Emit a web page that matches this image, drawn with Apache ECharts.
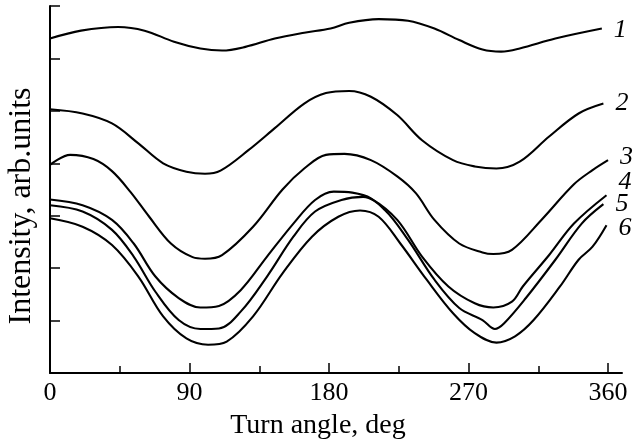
<!DOCTYPE html>
<html>
<head>
<meta charset="utf-8">
<script src="https://cdn.jsdelivr.net/npm/echarts@6/dist/echarts.min.js"></script>
<style>
html,body{margin:0;padding:0;background:#fff;}
#chart{width:636px;height:447px;}
</style>
</head>
<body>
<div id="chart"></div>
<script>
// ---- data ----
const xMajorTicks = [0, 90, 180, 270, 360];
const xMinorTicks = [45, 135, 225, 315];
const curveLabels = ['1', '2', '3', '4', '5', '6'];

const deg1 = [0, 20, 44, 61, 80, 97, 111, 126, 145, 164, 181, 193, 212, 231, 248, 264, 279, 291, 303, 326, 356];
const val1 = [6.38, 6.53, 6.60, 6.53, 6.32, 6.19, 6.15, 6.22, 6.38, 6.49, 6.57, 6.68, 6.75, 6.72, 6.57, 6.35, 6.17, 6.13, 6.19, 6.38, 6.57];

const deg2 = [0, 21, 40, 57, 73, 88, 100, 110, 128, 145, 164, 178, 193, 207, 224, 240, 260, 274, 288, 303, 322, 341, 357];
const val2 = [5.03, 4.95, 4.76, 4.38, 4.00, 3.84, 3.80, 3.86, 4.25, 4.67, 5.14, 5.34, 5.38, 5.27, 4.92, 4.44, 4.06, 3.94, 3.90, 4.03, 4.51, 4.95, 5.14];

const deg3 = [0, 13, 28, 40, 52, 64, 78, 92, 100, 111, 131, 150, 164, 178, 190, 207, 224, 236, 248, 264, 279, 286, 298, 317, 338, 350, 360];
const val3 = [3.97, 4.16, 4.08, 3.85, 3.45, 2.98, 2.47, 2.21, 2.18, 2.25, 2.79, 3.50, 3.90, 4.16, 4.18, 4.06, 3.75, 3.43, 2.92, 2.47, 2.30, 2.27, 2.35, 2.92, 3.60, 3.87, 4.06];

const deg4 = [0, 21, 40, 54, 68, 83, 97, 109, 123, 140, 157, 171, 183, 195, 207, 224, 240, 257, 274, 286, 298, 305, 322, 338, 359];
const val4 = [3.31, 3.20, 2.92, 2.47, 1.84, 1.43, 1.25, 1.28, 1.58, 2.22, 2.85, 3.30, 3.46, 3.44, 3.33, 2.92, 2.22, 1.65, 1.33, 1.25, 1.36, 1.65, 2.25, 2.85, 3.39];

const deg5 = [0, 21, 40, 54, 68, 83, 97, 109, 123, 140, 157, 171, 188, 202, 216, 231, 248, 264, 279, 287, 293, 307, 326, 343, 357];
const val5 = [3.20, 3.08, 2.73, 2.22, 1.55, 1.01, 0.84, 0.85, 1.17, 1.84, 2.60, 3.08, 3.30, 3.36, 3.11, 2.54, 1.78, 1.24, 1.01, 0.84, 0.95, 1.43, 2.16, 2.85, 3.22];

const deg6 = [0, 21, 40, 57, 73, 88, 102, 114, 131, 150, 169, 186, 200, 212, 226, 243, 260, 274, 288, 300, 312, 329, 341, 350, 359];
const val6 = [2.95, 2.79, 2.44, 1.84, 1.08, 0.66, 0.54, 0.60, 1.08, 1.90, 2.60, 2.98, 3.10, 2.98, 2.47, 1.78, 1.14, 0.76, 0.58, 0.70, 1.01, 1.65, 2.16, 2.41, 2.82];

const xTitle = 'Turn angle, deg';
const yTitle = 'Intensity, arb.units';
// ---------------------------------------

const labelOffsetY = [2, 0, -3, -13, 0, 3];
const curves = [[deg1, val1], [deg2, val2], [deg3, val3], [deg4, val4], [deg5, val5], [deg6, val6]];
const FONT = '"Liberation Serif", "DejaVu Serif", serif';

const chart = echarts.init(document.getElementById('chart'), null, {renderer: 'canvas'});

const series = curves.map((c, i) => ({
  type: 'line',
  xAxisIndex: 0,
  yAxisIndex: 0,
  data: c[0].map((d, k) => [d, c[1][k]]),
  smooth: 0.35,
  showSymbol: false,
  silent: true,
  lineStyle: {color: '#000', width: 2.1},
  endLabel: {
    show: true,
    formatter: curveLabels[i],
    fontFamily: FONT,
    fontStyle: 'italic',
    fontSize: 26,
    color: '#000',
    distance: 12,
    offset: [0, labelOffsetY[i]]
  }
}));

const option = {
  animation: false,
  backgroundColor: '#fff',
  grid: {left: 50, right: 14, top: 6, bottom: 74, containLabel: false},
  xAxis: [
    {
      type: 'value', min: 0, max: 369,
      axisLine: {show: true, lineStyle: {color: '#000', width: 2}},
      axisTick: {show: true, inside: true, length: 10, customValues: xMajorTicks, lineStyle: {color: '#000', width: 1.5}},
      axisLabel: {show: true, customValues: xMajorTicks, fontFamily: FONT, fontSize: 26, color: '#000', margin: 7},
      splitLine: {show: false}
    },
    {
      type: 'value', min: 0, max: 369, position: 'bottom',
      axisLine: {show: false},
      axisTick: {show: true, inside: true, length: 7, customValues: xMinorTicks, lineStyle: {color: '#000', width: 1.5}},
      axisLabel: {show: false},
      splitLine: {show: false}
    }
  ],
  yAxis: {
    type: 'value', min: 0, max: 7, interval: 1,
    axisLine: {show: true, lineStyle: {color: '#000', width: 2}},
    axisTick: {show: true, inside: true, length: 10, lineStyle: {color: '#000', width: 1.5}},
    axisLabel: {show: false},
    splitLine: {show: false}
  },
  graphic: [
    {
      type: 'text', x: 318, y: 426,
      style: {text: xTitle, font: '28px ' + FONT, fill: '#000', align: 'center', verticalAlign: 'middle'}
    },
    {
      type: 'text', x: 22, y: 206, rotation: Math.PI / 2,
      style: {text: yTitle, font: '32px ' + FONT, fill: '#000', align: 'center', verticalAlign: 'middle'}
    }
  ],
  series: series
};

chart.setOption(option);
</script>
</body>
</html>
